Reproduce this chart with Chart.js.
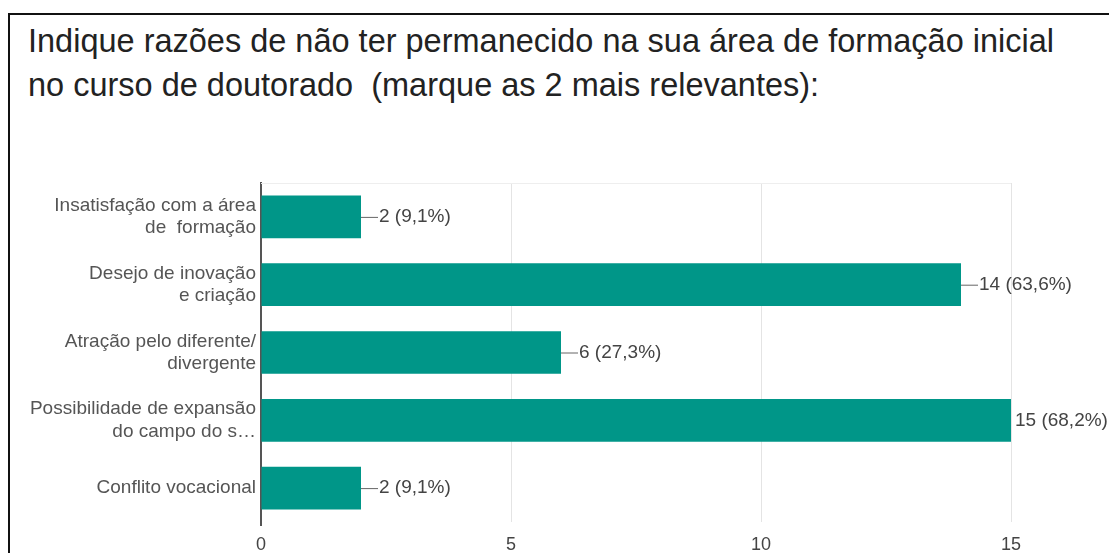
<!DOCTYPE html>
<html>
<head>
<meta charset="utf-8">
<script src="https://cdn.jsdelivr.net/npm/chart.js@4"></script>
<style>
  html, body { margin: 0; padding: 0; background: #fff; overflow: hidden; }
  #frame {
    position: absolute; left: 8px; top: 13px; width: 1200px; height: 600px;
    border-left: 2px solid #111; border-top: 2px solid #111;
  }
  .title {
    position: absolute; left: 28px; font-family: "Liberation Sans", Arial, sans-serif;
    font-size: 33px; color: #222; white-space: pre; transform-origin: 0 0;
  }
  #wrap { position: absolute; left: 0; top: 0; width: 1109px; height: 553px; }
</style>
</head>
<body>
<div id="frame"></div>
<div class="title" id="t1" style="top:22px">Indique razões de não ter permanecido na sua área de formação inicial</div>
<div class="title" id="t2" style="top:66px">no curso de doutorado  (marque as 2 mais relevantes):</div>
<div id="wrap"><canvas id="chart"></canvas></div>
<script>
// Data
const categories = [
    ['Insatisfação com a área', 'de  formação'],
    ['Desejo de inovação', 'e criação'],
    ['Atração pelo diferente/', 'divergente'],
    ['Possibilidade de expansão', 'do campo do s…'],
    ['Conflito vocacional']
];
const counts = [2, 14, 6, 15, 2];
const pctLabels = ['9,1%', '63,6%', '27,3%', '68,2%', '9,1%'];
const xTicks = [0, 5, 10, 15];

const barColor = '#009688';
const textColor = '#444';
const fontFamily = '"Liberation Sans", Arial, sans-serif';

// squeeze title to the reference width
const t1 = document.getElementById('t1');
const sx = 1026 / t1.getBoundingClientRect().width;
document.querySelectorAll('.title').forEach(el => el.style.transform = 'scaleX(' + sx + ')');

// value annotations with short leader line
const valueLabels = {
    id: 'valueLabels',
    afterDatasetsDraw(chart) {
        const ctx = chart.ctx;
        const meta = chart.getDatasetMeta(0);
        ctx.save();
        ctx.font = '19px ' + fontFamily;
        ctx.textBaseline = 'middle';
        ctx.textAlign = 'left';
        meta.data.forEach((bar, i) => {
            const x = bar.x;
            const y = bar.y;
            let tx = x + 18;
            if (x >= chart.chartArea.right - 1) {
                tx = x + 4;
            } else {
                ctx.strokeStyle = '#666';
                ctx.lineWidth = 1;
                ctx.beginPath();
                ctx.moveTo(x, y + 0.5);
                ctx.lineTo(x + 17, y + 0.5);
                ctx.stroke();
            }
            ctx.fillStyle = textColor;
            ctx.fillText(counts[i] + ' (' + pctLabels[i] + ')', tx, y);
        });
        ctx.restore();
    }
};

new Chart(document.getElementById('chart'), {
    type: 'bar',
    data: {
        labels: categories,
        datasets: [{
            data: counts,
            backgroundColor: barColor,
            borderWidth: 0,
            categoryPercentage: 1,
            barPercentage: 0.63
        }]
    },
    options: {
        indexAxis: 'y',
        responsive: true,
        maintainAspectRatio: false,
        animation: false,
        layout: { padding: { top: 183, right: 98, bottom: 0, left: 0 } },
        plugins: { legend: { display: false }, tooltip: { enabled: false } },
        scales: {
            x: {
                min: 0,
                max: 15,
                afterBuildTicks: scale => { scale.ticks = xTicks.map(v => ({ value: v })); },
                afterFit: scale => { scale.height = 31; },
                grid: { color: '#e4e4e4', drawTicks: false },
                border: { display: false },
                ticks: {
                    color: textColor,
                    padding: 12,
                    font: { family: fontFamily, size: 18 }
                }
            },
            y: {
                afterFit: scale => { scale.width = 261; },
                grid: { display: false, drawTicks: false },
                border: { display: true, color: '#555', width: 2 },
                ticks: {
                    color: '#555',
                    padding: 5,
                    font: { family: fontFamily, size: 19, lineHeight: 1.17 }
                }
            }
        }
    },
    plugins: [valueLabels, {
        id: 'plotFrame',
        beforeDatasetsDraw(chart) {
            const a = chart.chartArea;
            const ctx = chart.ctx;
            ctx.save();
            ctx.strokeStyle = '#eeeeee';
            ctx.lineWidth = 1;
            ctx.beginPath();
            ctx.moveTo(a.left, a.top + 0.5);
            ctx.lineTo(a.right, a.top + 0.5);
            ctx.stroke();
            // axis line runs a few pixels past the plot bottom
            ctx.strokeStyle = '#555';
            ctx.lineWidth = 2;
            ctx.beginPath();
            ctx.moveTo(a.left, a.bottom);
            ctx.lineTo(a.left, a.bottom + 4);
            ctx.stroke();
            ctx.restore();
        }
    }]
});
</script>
</body>
</html>
